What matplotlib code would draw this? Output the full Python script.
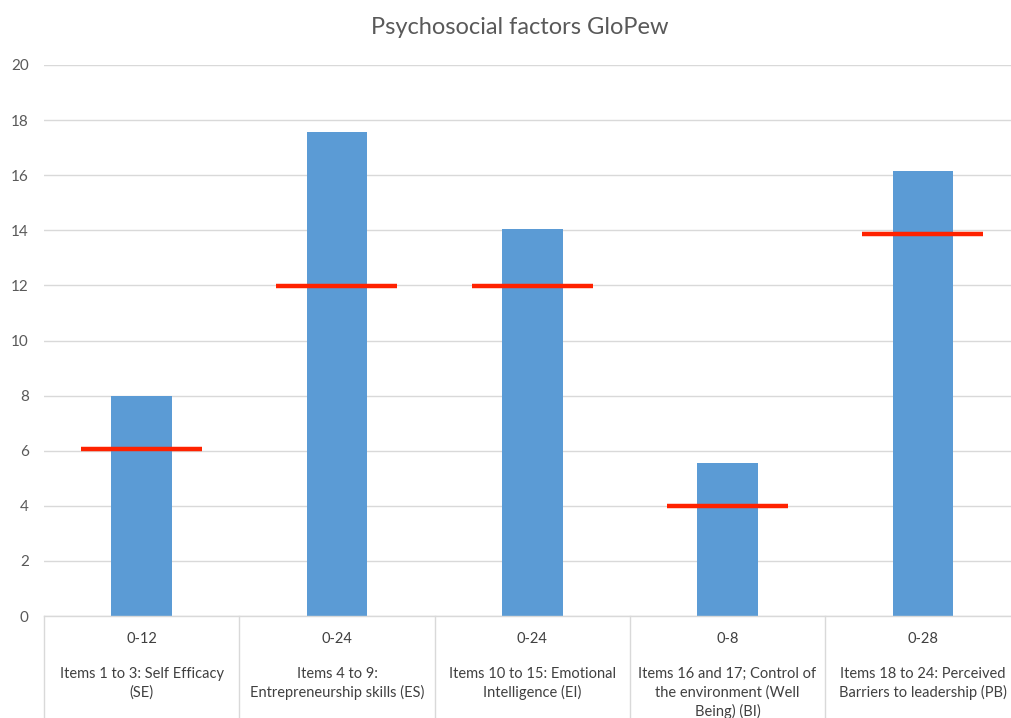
import matplotlib
matplotlib.use("Agg")
import matplotlib.pyplot as plt
import matplotlib.transforms as mtransforms

ranges = ["0-12", "0-24", "0-24", "0-8", "0-28"]
names = ["Items 1 to 3: Self Efficacy\n(SE)",
         "Items 4 to 9:\nEntrepreneurship skills (ES)",
         "Items 10 to 15: Emotional\nIntelligence (EI)",
         "Items 16 and 17; Control of\nthe environment (Well\nBeing) (BI)",
         "Items 18 to 24: Perceived\nBarriers to leadership (PB)"]
scores = [8.0, 17.58, 14.03, 5.55, 16.17]
thresholds = [6.05, 11.98, 11.98, 3.98, 13.85]
yticks = [0, 2, 4, 6, 8, 10, 12, 14, 16, 18, 20]

plt.rcParams['font.family'] = ['Lato', 'DejaVu Sans']
W, H = 1011, 718
fig = plt.figure(figsize=(W/100, H/100), dpi=100)
ax = fig.add_axes([44/W, (H-616)/H, 976.5/W, 551/H])

x = list(range(len(scores)))
ax.bar(x, scores, width=0.31, color='#5B9BD5', zorder=2)
ax.hlines(thresholds, [i-0.31 for i in x], [i+0.31 for i in x], colors='#FF2200', linewidth=3.2, zorder=3)

ax.set_xlim(-0.5, len(scores)-0.5)
ax.set_ylim(0, 20)
ax.set_yticks(yticks)
ax.set_yticklabels([str(v) for v in yticks], fontsize=11, color='#595959')
ax.tick_params(axis='y', length=0, pad=11)
ax.set_xticks([])
ax.grid(axis='y', color='#D9D9D9', linewidth=1.0, zorder=0)
for s in ['top', 'right', 'left']:
    ax.spines[s].set_visible(False)
ax.spines['bottom'].set_color('#D9D9D9')
ax.spines['bottom'].set_linewidth(1.0)

trans = mtransforms.blended_transform_factory(ax.transData, ax.transAxes)
for b in range(len(scores)+1):
    ax.plot([b-0.5, b-0.5], [0, -0.3], transform=trans, color='#D9D9D9', linewidth=1.0, clip_on=False)

for i in x:
    ax.text(i, -23/551, ranges[i], transform=trans, ha='center', va='center', fontsize=10.5, color='#404040')
    ax.text(i, -51/551, names[i], transform=trans, ha='center', va='top', fontsize=10.5, color='#404040', linespacing=1.35)

fig.text(519.5/W, (H-27)/H, "Psychosocial factors GloPew", ha='center', va='center', fontsize=17, color='#595959')

fig.savefig("out.png", dpi=100)
